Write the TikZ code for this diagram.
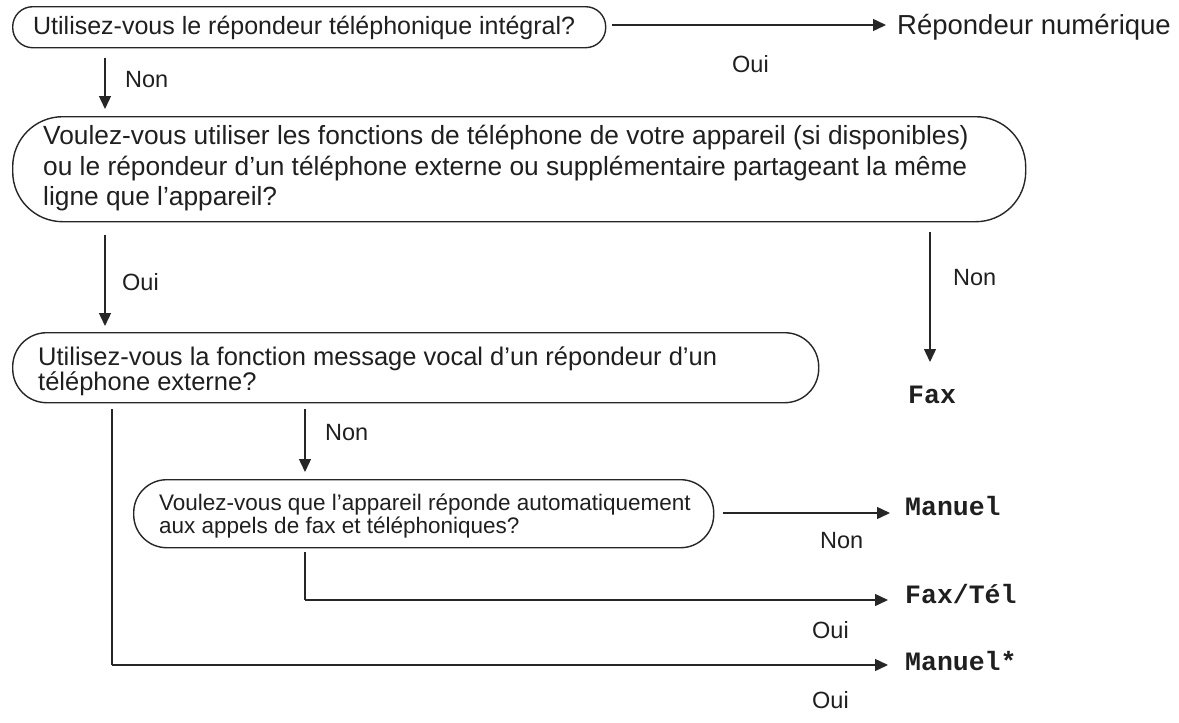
\documentclass[tikz,border=0pt]{standalone}
\usepackage{fontspec}
\setmainfont{Liberation Sans}
\newfontfamily\monob{Liberation Mono}[BoldFont=* Bold]
\newcommand{\aq}{\symbol{39}}
\usetikzlibrary{arrows.meta}
\begin{document}
\begin{tikzpicture}[x=1pt,y=-1pt,
  box/.style={draw,line width=1.4pt,anchor=north west,inner sep=0pt,color=black!85},
  txt/.style={anchor=base west,inner sep=0pt,text=black!88},
  lab/.style={txt,font=\fontsize{23.5}{26}\selectfont},
  res/.style={txt,font=\fontsize{26.5}{30}\selectfont\monob\bfseries},
  arr/.style={line width=1.4pt,color=black!85,-{Triangle[length=13pt,width=12pt]}},
  ln/.style={line width=1.4pt,color=black!85}]
\useasboundingbox (0,0) rectangle (1179,723);
\node[box,minimum width=593,minimum height=41,rounded corners=20] (b1) at (12,6) {};
\node[txt,font=\fontsize{25}{28}\selectfont] (t1) at (33,34) {Utilisez-vous le répondeur téléphonique intégral?};
\node[box,minimum width=1013,minimum height=105,rounded corners=50] (b2) at (12,116) {};
\begin{scope}[every node/.style={txt,font=\fontsize{26.3}{30}\selectfont}]
\node (t2a) at (43,144) {Voulez-vous utiliser les fonctions de téléphone de votre appareil (si disponibles)};
\node (t2b) at (43,175) {ou le répondeur d\aq un téléphone externe ou supplémentaire partageant la même};
\node (t2c) at (43,205) {ligne que l\aq appareil?};
\end{scope}
\node[box,minimum width=806,minimum height=70,rounded corners=34] (b3) at (12,332) {};
\begin{scope}[every node/.style={txt,font=\fontsize{25.5}{30}\selectfont}]
\node (t3a) at (38,365) {Utilisez-vous la fonction message vocal d\aq un répondeur d\aq un};
\node (t3b) at (38,390) {téléphone externe?};
\end{scope}
\node[box,minimum width=580,minimum height=68,rounded corners=33] (b4) at (133,479) {};
\begin{scope}[every node/.style={txt,font=\fontsize{22.5}{26}\selectfont}]
\node (t4a) at (159,510) {Voulez-vous que l\aq appareil réponde automatiquement};
\node (t4b) at (159,533) {aux appels de fax et téléphoniques?};
\end{scope}
\node[txt,font=\fontsize{27.5}{30}\selectfont] (r1) at (897,34) {Répondeur numérique};
\node[res] (fax) at (908,403) {Fax};
\node[res] (man) at (905,515) {Manuel};
\node[res] (ft) at (905,603) {Fax/Tél};
\node[res] (mans) at (905,670) {Manuel*};
\node[lab] (o1) at (732,72) {Oui};
\node[lab] (n1) at (125,87) {Non};
\node[lab] (o2) at (122,290) {Oui};
\node[lab] (n2) at (953,285) {Non};
\node[lab] (n3) at (325,440) {Non};
\node[lab] (n4) at (820,548) {Non};
\node[lab] (o3) at (812,638) {Oui};
\node[lab] (o4) at (812,708) {Oui};
\coordinate (a0) at (612,25); \coordinate (a0e) at (886,25);
\coordinate (a1) at (105,58); \coordinate (a1e) at (105,109);
\coordinate (a2) at (105,235); \coordinate (a2e) at (105,326);
\coordinate (a3) at (930,232); \coordinate (a3e) at (930,362);
\coordinate (a4) at (305,409); \coordinate (a4e) at (305,472);
\coordinate (a5) at (723,513); \coordinate (a5e) at (890,513);
\coordinate (c1) at (112,409); \coordinate (c1b) at (112,665); \coordinate (c1e) at (888,665);
\coordinate (c2) at (305,552); \coordinate (c2b) at (305,600); \coordinate (c2e) at (888,600);
\draw[arr] (a0) -- (a0e);
\draw[arr] (a1) -- (a1e);
\draw[arr] (a2) -- (a2e);
\draw[arr] (a3) -- (a3e);
\draw[arr] (a4) -- (a4e);
\draw[arr] (a5) -- (a5e);
\draw[ln] (c1) -- (c1b); \draw[arr] (c1b) -- (c1e);
\draw[ln] (c2) -- (c2b); \draw[arr] (c2b) -- (c2e);
\end{tikzpicture}
\end{document}
